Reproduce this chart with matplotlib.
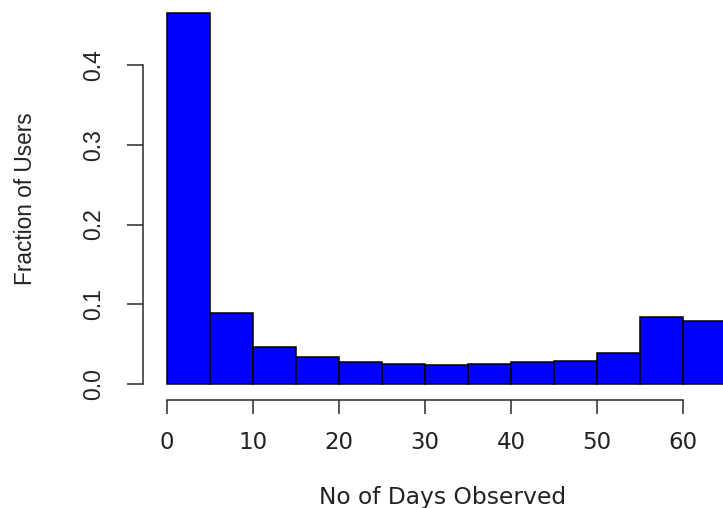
import numpy as np
import matplotlib
matplotlib.use("Agg")
import matplotlib.pyplot as plt

# histogram of observation days, 5-day bins
bin_left = [0, 5, 10, 15, 20, 25, 30, 35, 40, 45, 50, 55, 60]
bin_width = 5
fraction = [0.465, 0.089, 0.047, 0.034, 0.027, 0.025, 0.024,
            0.025, 0.027, 0.029, 0.039, 0.084, 0.079]
x_ticks = [0, 10, 20, 30, 40, 50, 60]
y_ticks = [0.0, 0.1, 0.2, 0.3, 0.4]

W, H = 723, 508
AXIS_COLOR = "#2a2a2a"
TEXT_COLOR = "#222222"
FONT_H = "DejaVu Sans"        # horizontal text
FONT_V = "Liberation Sans"    # rotated text

fig = plt.figure(figsize=(W / 100, H / 100), dpi=100)
# plot region in pixels: left edge at the y axis line, bottom at the x axis line
left_px, bottom_px = 143.3, 400.0
ax = fig.add_axes([left_px / W, (H - bottom_px) / H,
                   (W - left_px) / W, bottom_px / H])

ax.bar(bin_left, fraction, width=bin_width, align="edge",
       color="#0000FF", edgecolor="black", linewidth=1.1, clip_on=False)

# 0 day at x=167px, 8.6 px per day; 0.0 at y=384px, 797.5 px per unit
ax.set_xlim((left_px - 167) / 8.6, (W - 167) / 8.6)
ax.set_ylim(-(bottom_px - 384) / 797.5, 384 / 797.5)

for side in ("top", "right"):
    ax.spines[side].set_visible(False)
ax.spines["left"].set_bounds(0, 0.4)
ax.spines["bottom"].set_bounds(0, 60)
for side in ("left", "bottom"):
    ax.spines[side].set_color(AXIS_COLOR)
    ax.spines[side].set_linewidth(1.1)

ax.set_xticks(x_ticks)
ax.set_xticklabels([str(t) for t in x_ticks], family=FONT_H, fontsize=16.5)
ax.set_yticks(y_ticks)
ax.set_yticklabels(["{:.1f}".format(t) for t in y_ticks], family=FONT_V,
                   fontsize=16.5, rotation=90, va="center")
ax.tick_params(axis="x", direction="out", length=10.3, width=1.1,
               color=AXIS_COLOR, pad=12, labelcolor=TEXT_COLOR)
ax.tick_params(axis="y", direction="out", length=11.2, width=1.1,
               color=AXIS_COLOR, pad=16.5, labelcolor=TEXT_COLOR)

fig.text(26 / W, 1 - 199 / H, "Fraction of Users", rotation=90,
         ha="center", va="center", family=FONT_V, fontsize=16.3,
         color=TEXT_COLOR)
fig.text(443 / W, 3.7 / H, "No of Days Observed", ha="center",
         va="baseline", family=FONT_H, fontsize=16.8, color=TEXT_COLOR)

fig.savefig("out.png", dpi=100)
